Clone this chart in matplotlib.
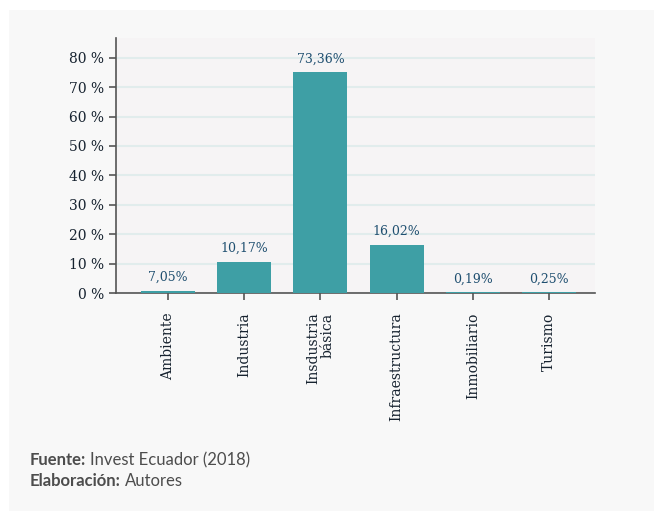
import matplotlib.pyplot as plt
import matplotlib.patches as mpatches

categories = ['Ambiente', 'Industria', 'Insdustria\nbásica', 'Infraestructura', 'Inmobiliario', 'Turismo']
bar_heights = [0.7, 10.7, 75.0, 16.4, 0.19, 0.25]
value_labels = ['7,05%', '10,17%', '73,36%', '16,02%', '0,19%', '0,25%']
y_ticks = [0, 10, 20, 30, 40, 50, 60, 70, 80]

fig = plt.figure(figsize=(6.54, 5.11), dpi=100, facecolor='white')

# light grey panel behind everything
fig.patches.append(mpatches.Rectangle((9 / 654, 0), 1 - 9 / 654, 1 - 10 / 511,
                                      transform=fig.transFigure, facecolor='#f8f8f8',
                                      edgecolor='none', zorder=-10))

ax = fig.add_axes([116 / 654, 1 - 293 / 511, 479 / 654, 255 / 511])
ax.set_facecolor('#f6f4f5')

x = range(len(categories))
ax.bar(x, bar_heights, width=0.71, color='#3e9fa5', zorder=3)

for xi, h, lab in zip(x, bar_heights, value_labels):
    ax.annotate(lab, (xi, h), xytext=(0, 5), textcoords='offset points',
                ha='center', va='bottom', fontsize=9, color='#1f4f70',
                family='DejaVu Serif', zorder=4)

ax.set_xlim(-0.68, 5.6)
ax.set_ylim(0, 86.7)

ax.set_yticks(y_ticks)
ax.set_yticklabels([f'{t} %' for t in y_ticks], fontsize=10, color='#16222f',
                   family='DejaVu Serif')
ax.set_xticks(list(x))
ax.set_xticklabels(categories, rotation=90, fontsize=10, color='#16222f',
                   family='DejaVu Serif', va='top', ha='center')
for lbl in ax.get_xticklabels():
    lbl.set_multialignment('right')
    lbl.set_linespacing(1.0)

ax.grid(axis='y', color='#e1ecec', linewidth=1.5, zorder=0)
ax.set_axisbelow(True)

for side in ['top', 'right']:
    ax.spines[side].set_visible(False)
for side in ['left', 'bottom']:
    ax.spines[side].set_color('#555555')
    ax.spines[side].set_linewidth(1.2)
ax.tick_params(axis='both', direction='out', length=5, width=1.2, color='#555555')
ax.tick_params(axis='x', pad=9)

# footer: bold key followed by regular text
renderer = fig.canvas.get_renderer()
foot = [('Fuente:', 'Invest Ecuador (2018)', 460), ('Elaboración:', 'Autores', 481)]
for key, val, ypix in foot:
    t = fig.text(30 / 654, 1 - ypix / 511, key, fontsize=12, fontweight='bold',
                 color='#4d4d4d', family='Lato', va='center')
    bb = t.get_window_extent(renderer)
    fig.text((bb.x1 + 4) / 654, 1 - ypix / 511, val, fontsize=12,
             color='#4d4d4d', family='Lato', va='center')

fig.savefig('out.png', dpi=100, facecolor=fig.get_facecolor())
